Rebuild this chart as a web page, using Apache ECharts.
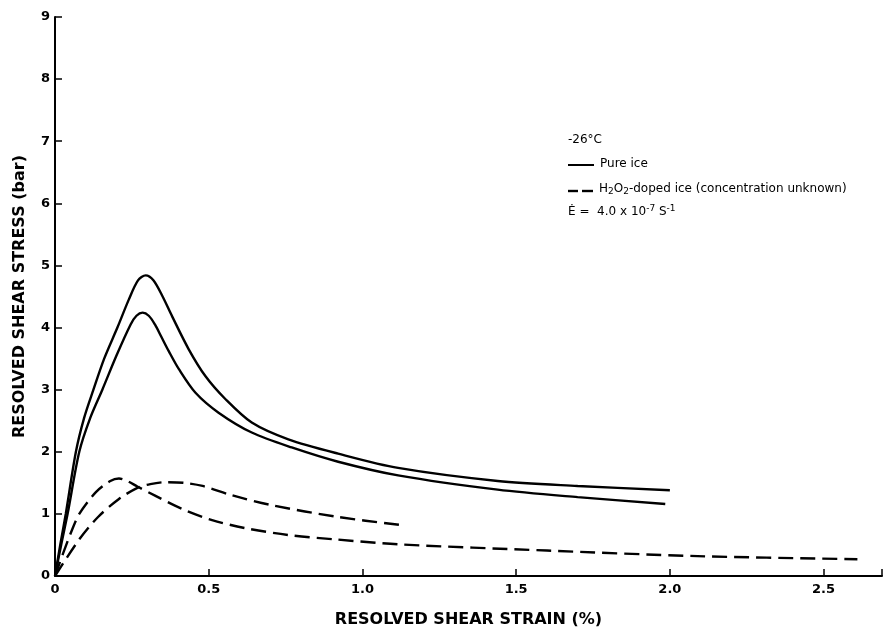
<!DOCTYPE html>
<html>
<head>
<meta charset="utf-8">
<script src="https://cdn.jsdelivr.net/npm/echarts@6/dist/echarts.min.js"></script>
<style>html,body{margin:0;padding:0;background:#fff}#c{width:885px;height:633px}</style>
</head>
<body>
<div id="c"></div>
<script>
// Pure ice, upper curve
const pureAX = [0, 0.017, 0.035, 0.068, 0.095, 0.125, 0.16, 0.203, 0.24, 0.27, 0.295, 0.32, 0.35, 0.381, 0.435, 0.489, 0.554, 0.64, 0.759, 0.921, 1.116, 1.44, 1.7, 2.0];
const pureAY = [0, 0.5, 1.0, 2.0, 2.55, 3.0, 3.5, 4.0, 4.45, 4.76, 4.84, 4.76, 4.50, 4.18, 3.65, 3.22, 2.85, 2.47, 2.2, 1.97, 1.74, 1.53, 1.45, 1.38];
// Pure ice, lower curve
const pureBX = [0, 0.02, 0.041, 0.079, 0.115, 0.154, 0.2, 0.246, 0.265, 0.285, 0.305, 0.325, 0.345, 0.37, 0.403, 0.457, 0.532, 0.64, 0.77, 0.921, 1.116, 1.44, 1.7, 1.985];
const pureBY = [0, 0.5, 1.0, 2.0, 2.55, 3.0, 3.55, 4.05, 4.19, 4.24, 4.19, 4.05, 3.86, 3.62, 3.33, 2.95, 2.63, 2.31, 2.07, 1.84, 1.62, 1.39, 1.27, 1.16];
// H2O2-doped ice, early peak, long tail
const dopedAX = [0, 0.026, 0.052, 0.079, 0.133, 0.18, 0.208, 0.235, 0.268, 0.327, 0.413, 0.511, 0.619, 0.759, 0.911, 1.116, 1.6, 2.09, 2.61];
const dopedAY = [0, 0.36, 0.70, 1.00, 1.35, 1.53, 1.57, 1.53, 1.44, 1.29, 1.08, 0.90, 0.77, 0.66, 0.59, 0.51, 0.41, 0.32, 0.27];
// H2O2-doped ice, later peak, short
const dopedBX = [0, 0.079, 0.14, 0.208, 0.268, 0.31, 0.36, 0.42, 0.48, 0.575, 0.705, 0.921, 1.127];
const dopedBY = [0, 0.59, 0.95, 1.24, 1.42, 1.48, 1.51, 1.50, 1.45, 1.30, 1.14, 0.95, 0.82];

const xTicks = ['0', '0.5', '1.0', '1.5', '2.0', '2.5'];
const yTicks = ['0', '1', '2', '3', '4', '5', '6', '7', '8', '9'];

const pair = (xs, ys) => xs.map((x, i) => [x, ys[i]]);

const chart = echarts.init(document.getElementById('c'));
const FONT = 'DejaVu Sans';
const solid = {color: '#000', width: 2.4, type: 'solid'};
const dashed = {color: '#000', width: 2.4, type: [15, 7]};
const line = (xs, ys, ls) => ({type: 'line', data: pair(xs, ys), smooth: 0.3, showSymbol: false, lineStyle: ls});

chart.setOption({
  animation: false,
  backgroundColor: '#fff',
  grid: {left: 55, top: 17, right: 0, bottom: 56},
  xAxis: {
    type: 'value', min: 0, max: 2.69, interval: 0.5,
    name: 'RESOLVED SHEAR STRAIN (%)', nameLocation: 'middle', nameGap: 36,
    nameTextStyle: {fontFamily: FONT, fontWeight: 'bold', fontSize: 16, color: '#000'},
    axisLine: {lineStyle: {color: '#000', width: 2}},
    axisTick: {inside: true, length: 7, lineStyle: {color: '#000', width: 1.5}},
    axisLabel: {fontFamily: FONT, fontWeight: 'bold', fontSize: 13, color: '#000', margin: 7,
      formatter: v => { const i = Math.round(v / 0.5); return Math.abs(v - i * 0.5) < 1e-6 && xTicks[i] !== undefined ? xTicks[i] : ''; }},
    splitLine: {show: false}
  },
  yAxis: {
    type: 'value', min: 0, max: 9, interval: 1,
    name: 'RESOLVED SHEAR STRESS (bar)', nameLocation: 'middle', nameGap: 27, nameRotate: 90,
    nameTextStyle: {fontFamily: FONT, fontWeight: 'bold', fontSize: 16, color: '#000'},
    axisLine: {show: true, lineStyle: {color: '#000', width: 2}},
    axisTick: {show: true, inside: true, length: 7, lineStyle: {color: '#000', width: 1.5}},
    axisLabel: {fontFamily: FONT, fontWeight: 'bold', fontSize: 13, color: '#000', margin: 5,
      formatter: v => yTicks[Math.round(v)] !== undefined ? yTicks[Math.round(v)] : ''},
    splitLine: {show: false}
  },
  series: [
    line(pureAX, pureAY, solid),
    line(pureBX, pureBY, solid),
    line(dopedAX, dopedAY, dashed),
    line(dopedBX, dopedBY, dashed)
  ],
  graphic: [
    {type: 'text', left: 568, top: 134, style: {text: '-26°C', font: '12px "DejaVu Sans"', fill: '#000'}},
    {type: 'line', shape: {x1: 568, y1: 165, x2: 594, y2: 165}, style: {stroke: '#000', lineWidth: 2}},
    {type: 'text', left: 600, top: 158, style: {text: 'Pure ice', font: '12px "DejaVu Sans"', fill: '#000'}},
    {type: 'line', shape: {x1: 568, y1: 191, x2: 578, y2: 191}, style: {stroke: '#000', lineWidth: 2.4}},
    {type: 'line', shape: {x1: 582, y1: 191, x2: 593, y2: 191}, style: {stroke: '#000', lineWidth: 2.4}},
    {type: 'text', left: 599, top: 183, style: {
      text: 'H{s|2}O{s|2}-doped ice (concentration unknown)',
      font: '12px "DejaVu Sans"', fill: '#000',
      rich: {s: {fontSize: 9, fontFamily: 'DejaVu Sans', padding: [6, 0, 0, 0]}}}},
    {type: 'text', left: 568, top: 204, style: {
      text: 'Ė =  4.0 x 10{p|-7} S{p|-1}',
      font: '12px "DejaVu Sans"', fill: '#000',
      rich: {p: {fontSize: 9, fontFamily: 'DejaVu Sans', padding: [0, 0, 7, 0]}}}}
  ]
});
</script>
</body>
</html>
